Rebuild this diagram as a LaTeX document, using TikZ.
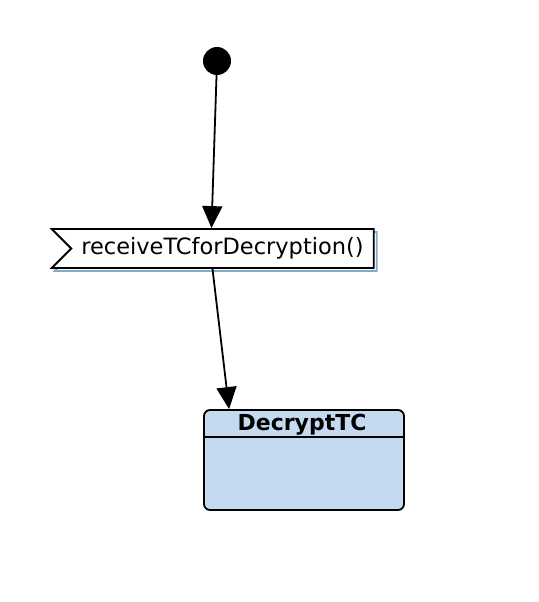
\documentclass[tikz,border=0pt]{standalone}
\usepackage{fontspec}
\setmainfont{DejaVu Sans}
\usetikzlibrary{arrows.meta,shapes.symbols,shadows}

\definecolor{stateblue}{HTML}{C4DAF1}
\definecolor{shadowblue}{HTML}{7FAECB}

\tikzset{
    flow/.style={line width=1.8pt, -{Triangle[length=22pt,width=20pt]}},
    recvbox/.style={signal, signal from=west, signal to=nowhere, draw, line width=1.8pt,
        fill=white, minimum width=322pt, minimum height=39pt, inner xsep=4pt,
        font=\fontsize{22.5}{26}\selectfont,
        copy shadow={shadow xshift=3pt, shadow yshift=-3pt, draw=shadowblue, fill=white, line width=1.8pt}},
    statebox/.style={draw, line width=1.8pt, rounded corners=6pt, fill=stateblue,
        minimum width=200pt, minimum height=100pt}
}

\begin{document}
\begin{tikzpicture}[x=1pt,y=-1pt]
        \useasboundingbox (0,0) rectangle (538,602);

        \node[circle,fill,inner sep=0pt,minimum size=28pt] (start) at (217,61) {};

        \node[recvbox] (recv) at (222.5,248.5) {receiveTCforDecryption()};

        \node[statebox] (decrypt) at (304,460) {};
        \draw[line width=1.8pt] ([yshift=-28pt]decrypt.north west) -- ([yshift=-28pt]decrypt.north east);
        \node[font=\fontsize{22}{26}\selectfont\bfseries] (decryptname) at (302,425) {DecryptTC};

        \draw[flow] (start) -- ([xshift=-11pt]recv.north);
        \draw[flow] ([xshift=-10pt]recv.south) -- ([xshift=26pt]decrypt.north west);
    \end{tikzpicture}
\end{document}
